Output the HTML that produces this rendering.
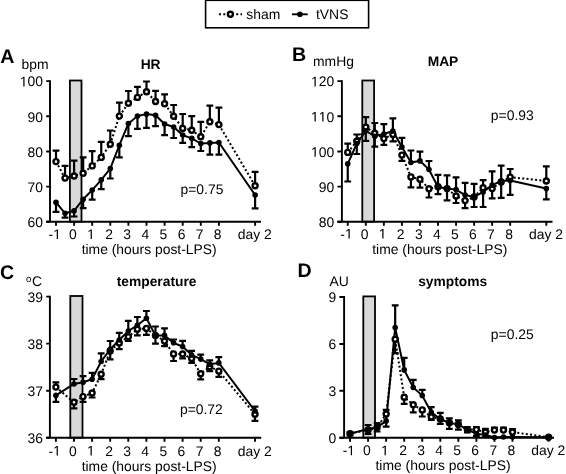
<!DOCTYPE html>
<html><head><meta charset="utf-8"><style>
html,body{margin:0;padding:0;background:#fff;}
svg{display:block;}
text{font-family:"Liberation Sans", sans-serif;font-size:13.9px;fill:#000;text-rendering:geometricPrecision;}
svg{will-change:transform;}
</style></head><body>
<svg width="566" height="474" viewBox="0 0 566 474">

<rect x="205.6" y="0.3" width="163" height="27.5" fill="#fff" stroke="#000" stroke-width="1.6"/>
<path d="M219 14.3H242" stroke="#000" stroke-width="2" stroke-dasharray="2 2.3"/>
<circle cx="230.4" cy="14.3" r="2.5" fill="#fff" stroke="#000" stroke-width="2.4"/>
<text x="246.3" y="19.2">sham</text>
<path d="M292 14.3H307.7" stroke="#000" stroke-width="1.9"/>
<circle cx="299.9" cy="14.3" r="2.8"/>
<text x="316" y="19.2">tVNS</text>

<rect x="69.9" y="80.5" width="11.6" height="141.2" fill="#d9d9d9" stroke="#000" stroke-width="1.8"/>
<path d="M50 80.15V221.7M46.2 221.7H261" stroke="#000" stroke-width="1.9" fill="none"/>
<path d="M46.2 221.7H50M46.2 186.6H50M46.2 151.5H50M46.2 116.3H50M46.2 81.1H50M56 221.7v4.0M74.1 221.7v4.0M92.2 221.7v4.0M110.3 221.7v4.0M128.4 221.7v4.0M146.5 221.7v4.0M164.6 221.7v4.0M182.7 221.7v4.0M200.8 221.7v4.0M218.9 221.7v4.0M255.1 221.7v4.0" stroke="#000" stroke-width="1.9" fill="none"/>
<text x="43" y="227" text-anchor="end">60</text>
<text x="43" y="191.9" text-anchor="end">70</text>
<text x="43" y="156.8" text-anchor="end">80</text>
<text x="43" y="121.6" text-anchor="end">90</text>
<polygon points="23.3,86.4 24.53,86.4 24.53,76.84 23.41,76.84 21.15,78.39 21.15,79.55 23.3,78"/><text x="27.54" y="86.4">0</text><text x="35.27" y="86.4">0</text>
<text x="48.62" y="239">-</text><polygon points="56.74,239 57.97,239 57.97,229.44 56.85,229.44 54.59,230.99 54.59,232.15 56.74,230.6"/>
<text x="72.9" y="239" text-anchor="middle">0</text>
<polygon points="90.63,239 91.86,239 91.86,229.44 90.73,229.44 88.47,230.99 88.47,232.15 90.63,230.6"/>
<text x="109.1" y="239" text-anchor="middle">2</text>
<text x="127.2" y="239" text-anchor="middle">3</text>
<text x="145.3" y="239" text-anchor="middle">4</text>
<text x="163.4" y="239" text-anchor="middle">5</text>
<text x="181.5" y="239" text-anchor="middle">6</text>
<text x="199.6" y="239" text-anchor="middle">7</text>
<text x="217.7" y="239" text-anchor="middle">8</text>
<text x="254.8" y="239" text-anchor="middle">day 2</text>
<text x="149.2" y="253.6" text-anchor="middle">time (hours post-LPS)</text>
<text x="0.2" y="62.8" style="font-weight:bold;font-size:19.6px">A</text>
<text x="21.5" y="69.2">bpm</text>
<text x="150.6" y="68.9" text-anchor="middle" style="font-weight:bold;font-size:13.8px">HR</text>
<text x="223.4" y="194.1" text-anchor="end">p=0.75</text>
<polyline points="56,161.6 65.05,178.1 74.1,176 83.15,173.2 92.2,165.9 101.25,157.4 110.3,144.2 119.35,116.1 128.4,103.3 137.45,97.4 146.5,91.7 155.55,101.5 164.6,103.8 173.65,116.2 182.7,128.4 191.75,130.3 200.8,136.8 209.85,121.8 218.9,124.6 255.1,185.8" fill="none" stroke="#000" stroke-width="2" stroke-dasharray="2 2.3"/>
<polyline points="56,202.4 65.05,213.3 74.1,210.8 83.15,199.2 92.2,190.1 101.25,179.8 110.3,168.6 119.35,145.2 128.4,123.5 137.45,116.1 146.5,114.1 155.55,115.2 164.6,124 173.65,127 182.7,135.1 191.75,138.3 200.8,143.6 209.85,142.9 218.9,142.5 255.1,195" fill="none" stroke="#000" stroke-width="2.0"/>
<path d="M56 161.6V150.7M52.6 150.7h6.8M56 202.4V211.9M52.6 211.9h6.8M65.05 178.1V165.9M61.65 165.9h6.8M65.05 213.3V217.6M61.65 217.6h6.8M74.1 176V160.6M70.7 160.6h6.8M74.1 210.8V216.5M70.7 216.5h6.8M83.15 173.2V157.4M79.75 157.4h6.8M83.15 199.2V208.1M79.75 208.1h6.8M92.2 165.9V151.1M88.8 151.1h6.8M92.2 190.1V199.6M88.8 199.6h6.8M101.25 157.4V141.8M97.85 141.8h6.8M101.25 179.8V189.1M97.85 189.1h6.8M110.3 144.2V130.5M106.9 130.5h6.8M110.3 168.6V178.5M106.9 178.5h6.8M119.35 116.1V102.6M115.95 102.6h6.8M119.35 145.2V157.4M115.95 157.4h6.8M128.4 103.3V91M125 91h6.8M128.4 123.5V136.2M125 136.2h6.8M137.45 97.4V86.8M134.05 86.8h6.8M137.45 116.1V128.8M134.05 128.8h6.8M146.5 91.7V81.5M143.1 81.5h6.8M146.5 114.1V127.8M143.1 127.8h6.8M155.55 101.5V90.8M152.15 90.8h6.8M155.55 115.2V126.2M152.15 126.2h6.8M164.6 103.8V94.4M161.2 94.4h6.8M164.6 124V135.1M161.2 135.1h6.8M173.65 116.2V105M170.25 105h6.8M173.65 127V138M170.25 138h6.8M182.7 128.4V114M179.3 114h6.8M182.7 135.1V142.9M179.3 142.9h6.8M191.75 130.3V116.1M188.35 116.1h6.8M191.75 138.3V147.2M188.35 147.2h6.8M200.8 136.8V121.8M197.4 121.8h6.8M200.8 143.6V151M197.4 151h6.8M209.85 121.8V105.6M206.45 105.6h6.8M209.85 142.9V154.7M206.45 154.7h6.8M218.9 124.6V107.7M215.5 107.7h6.8M218.9 142.5V154.7M215.5 154.7h6.8M255.1 185.8V171.9M251.7 171.9h6.8M255.1 195V208.3M251.7 208.3h6.8" stroke="#000" stroke-width="2.2" fill="none"/>
<circle cx="56" cy="161.6" r="2.5" fill="#fff" stroke="#000" stroke-width="2.4"/>
<circle cx="65.05" cy="178.1" r="2.5" fill="#fff" stroke="#000" stroke-width="2.4"/>
<circle cx="74.1" cy="176" r="2.5" fill="#fff" stroke="#000" stroke-width="2.4"/>
<circle cx="83.15" cy="173.2" r="2.5" fill="#fff" stroke="#000" stroke-width="2.4"/>
<circle cx="92.2" cy="165.9" r="2.5" fill="#fff" stroke="#000" stroke-width="2.4"/>
<circle cx="101.25" cy="157.4" r="2.5" fill="#fff" stroke="#000" stroke-width="2.4"/>
<circle cx="110.3" cy="144.2" r="2.5" fill="#fff" stroke="#000" stroke-width="2.4"/>
<circle cx="119.35" cy="116.1" r="2.5" fill="#fff" stroke="#000" stroke-width="2.4"/>
<circle cx="128.4" cy="103.3" r="2.5" fill="#fff" stroke="#000" stroke-width="2.4"/>
<circle cx="137.45" cy="97.4" r="2.5" fill="#fff" stroke="#000" stroke-width="2.4"/>
<circle cx="146.5" cy="91.7" r="2.5" fill="#fff" stroke="#000" stroke-width="2.4"/>
<circle cx="155.55" cy="101.5" r="2.5" fill="#fff" stroke="#000" stroke-width="2.4"/>
<circle cx="164.6" cy="103.8" r="2.5" fill="#fff" stroke="#000" stroke-width="2.4"/>
<circle cx="173.65" cy="116.2" r="2.5" fill="#fff" stroke="#000" stroke-width="2.4"/>
<circle cx="182.7" cy="128.4" r="2.5" fill="#fff" stroke="#000" stroke-width="2.4"/>
<circle cx="191.75" cy="130.3" r="2.5" fill="#fff" stroke="#000" stroke-width="2.4"/>
<circle cx="200.8" cy="136.8" r="2.5" fill="#fff" stroke="#000" stroke-width="2.4"/>
<circle cx="209.85" cy="121.8" r="2.5" fill="#fff" stroke="#000" stroke-width="2.4"/>
<circle cx="218.9" cy="124.6" r="2.5" fill="#fff" stroke="#000" stroke-width="2.4"/>
<circle cx="255.1" cy="185.8" r="2.5" fill="#fff" stroke="#000" stroke-width="2.4"/>
<circle cx="56" cy="202.4" r="2.8"/>
<circle cx="65.05" cy="213.3" r="2.8"/>
<circle cx="74.1" cy="210.8" r="2.8"/>
<circle cx="83.15" cy="199.2" r="2.8"/>
<circle cx="92.2" cy="190.1" r="2.8"/>
<circle cx="101.25" cy="179.8" r="2.8"/>
<circle cx="110.3" cy="168.6" r="2.8"/>
<circle cx="119.35" cy="145.2" r="2.8"/>
<circle cx="128.4" cy="123.5" r="2.8"/>
<circle cx="137.45" cy="116.1" r="2.8"/>
<circle cx="146.5" cy="114.1" r="2.8"/>
<circle cx="155.55" cy="115.2" r="2.8"/>
<circle cx="164.6" cy="124" r="2.8"/>
<circle cx="173.65" cy="127" r="2.8"/>
<circle cx="182.7" cy="135.1" r="2.8"/>
<circle cx="191.75" cy="138.3" r="2.8"/>
<circle cx="200.8" cy="143.6" r="2.8"/>
<circle cx="209.85" cy="142.9" r="2.8"/>
<circle cx="218.9" cy="142.5" r="2.8"/>
<circle cx="255.1" cy="195" r="2.8"/>
<rect x="362.3" y="80.5" width="11.8" height="141.2" fill="#d9d9d9" stroke="#000" stroke-width="1.8"/>
<path d="M341.9 80.15V221.7M337.4 221.7H552.5" stroke="#000" stroke-width="1.9" fill="none"/>
<path d="M337.4 221.7H341.9M337.4 186.6H341.9M337.4 151.5H341.9M337.4 116.3H341.9M337.4 81.1H341.9M347.75 221.7v4.0M365.8 221.7v4.0M383.85 221.7v4.0M401.9 221.7v4.0M419.95 221.7v4.0M438 221.7v4.0M456.05 221.7v4.0M474.1 221.7v4.0M492.15 221.7v4.0M510.2 221.7v4.0M546.3 221.7v4.0" stroke="#000" stroke-width="1.9" fill="none"/>
<text x="334.2" y="227" text-anchor="end">80</text>
<text x="334.2" y="191.9" text-anchor="end">90</text>
<polygon points="314.5,156.8 315.73,156.8 315.73,147.24 314.61,147.24 312.35,148.79 312.35,149.95 314.5,148.4"/><text x="318.74" y="156.8">0</text><text x="326.47" y="156.8">0</text>
<polygon points="314.5,121.6 315.73,121.6 315.73,112.04 314.61,112.04 312.35,113.59 312.35,114.75 314.5,113.2"/><polygon points="322.23,121.6 323.46,121.6 323.46,112.04 322.34,112.04 320.08,113.59 320.08,114.75 322.23,113.2"/><text x="326.47" y="121.6">0</text>
<polygon points="314.5,86.4 315.73,86.4 315.73,76.84 314.61,76.84 312.35,78.39 312.35,79.55 314.5,78"/><text x="318.74" y="86.4">2</text><text x="326.47" y="86.4">0</text>
<text x="340.37" y="238.6">-</text><polygon points="348.49,238.6 349.72,238.6 349.72,229.04 348.6,229.04 346.34,230.59 346.34,231.75 348.49,230.2"/>
<text x="364.6" y="238.6" text-anchor="middle">0</text>
<polygon points="382.28,238.6 383.51,238.6 383.51,229.04 382.38,229.04 380.12,230.59 380.12,231.75 382.28,230.2"/>
<text x="400.7" y="238.6" text-anchor="middle">2</text>
<text x="418.75" y="238.6" text-anchor="middle">3</text>
<text x="436.8" y="238.6" text-anchor="middle">4</text>
<text x="454.85" y="238.6" text-anchor="middle">5</text>
<text x="472.9" y="238.6" text-anchor="middle">6</text>
<text x="490.95" y="238.6" text-anchor="middle">7</text>
<text x="509" y="238.6" text-anchor="middle">8</text>
<text x="546" y="238.6" text-anchor="middle">day 2</text>
<text x="439.8" y="253.5" text-anchor="middle">time (hours post-LPS)</text>
<text x="292" y="60.7" style="font-weight:bold;font-size:19.6px">B</text>
<text x="313" y="65.8">mmHg</text>
<text x="443" y="65.7" text-anchor="middle" style="font-weight:bold;font-size:13.8px">MAP</text>
<text x="533.7" y="119.9" text-anchor="end">p=0.93</text>
<polyline points="347.75,152.4 356.78,141.3 365.8,127.1 374.82,133.3 383.85,138.6 392.88,134.5 401.9,155.1 410.93,176.9 419.95,179.2 428.98,188.8 438,186.8 447.03,188.6 456.05,196 465.08,200.6 474.1,197 483.12,187.8 492.15,188.6 501.18,182 510.2,177.1 546.3,181" fill="none" stroke="#000" stroke-width="2" stroke-dasharray="2 2.3"/>
<polyline points="347.75,163.8 356.78,143.6 365.8,131 374.82,136.3 383.85,134 392.88,131 401.9,147.1 410.93,162.5 419.95,160.9 428.98,169.5 438,187 447.03,188.4 456.05,189.6 465.08,195 474.1,196.9 483.12,191.9 492.15,185.1 501.18,181 510.2,180.5 546.3,188.6" fill="none" stroke="#000" stroke-width="2.0"/>
<path d="M347.75 152.4V143.6M344.35 143.6h6.8M347.75 163.8V181.5M344.35 181.5h6.8M356.78 141.3V134.5M353.38 134.5h6.8M356.78 143.6V154M353.38 154h6.8M365.8 127.1V117.2M362.4 117.2h6.8M365.8 131V140.9M362.4 140.9h6.8M374.82 133.3V123M371.43 123h6.8M374.82 136.3V146.6M371.43 146.6h6.8M383.85 134V124.1M380.45 124.1h6.8M383.85 138.6V144.8M380.45 144.8h6.8M392.88 131V118.4M389.48 118.4h6.8M392.88 134.5V141.3M389.48 141.3h6.8M401.9 147.1V137.9M398.5 137.9h6.8M401.9 155.1V160.9M398.5 160.9h6.8M410.93 162.5V150.5M407.53 150.5h6.8M410.93 176.9V187.3M407.53 187.3h6.8M419.95 160.9V151.7M416.55 151.7h6.8M419.95 179.2V187.7M416.55 187.7h6.8M428.98 169.5V161M425.58 161h6.8M428.98 188.8V197.5M425.58 197.5h6.8M438 186.8V174.8M434.6 174.8h6.8M438 187V194.2M434.6 194.2h6.8M447.03 188.4V175.3M443.63 175.3h6.8M447.03 188.6V200.4M443.63 200.4h6.8M456.05 189.6V177.3M452.65 177.3h6.8M456.05 196V203M452.65 203h6.8M465.08 195V182.8M461.68 182.8h6.8M465.08 200.6V208.1M461.68 208.1h6.8M474.1 196.9V183.9M470.7 183.9h6.8M474.1 197V207M470.7 207h6.8M483.12 187.8V180.2M479.73 180.2h6.8M483.12 191.9V207M479.73 207h6.8M492.15 185.1V171.3M488.75 171.3h6.8M492.15 188.6V198.4M488.75 198.4h6.8M501.18 181V165.6M497.78 165.6h6.8M501.18 182V197.8M497.78 197.8h6.8M510.2 177.1V169M506.8 169h6.8M510.2 180.5V194.8M506.8 194.8h6.8M546.3 181V166.3M542.9 166.3h6.8M546.3 188.6V199.4M542.9 199.4h6.8" stroke="#000" stroke-width="2.2" fill="none"/>
<circle cx="347.75" cy="152.4" r="2.5" fill="#fff" stroke="#000" stroke-width="2.4"/>
<circle cx="356.78" cy="141.3" r="2.5" fill="#fff" stroke="#000" stroke-width="2.4"/>
<circle cx="365.8" cy="127.1" r="2.5" fill="#fff" stroke="#000" stroke-width="2.4"/>
<circle cx="374.82" cy="133.3" r="2.5" fill="#fff" stroke="#000" stroke-width="2.4"/>
<circle cx="383.85" cy="138.6" r="2.5" fill="#fff" stroke="#000" stroke-width="2.4"/>
<circle cx="392.88" cy="134.5" r="2.5" fill="#fff" stroke="#000" stroke-width="2.4"/>
<circle cx="401.9" cy="155.1" r="2.5" fill="#fff" stroke="#000" stroke-width="2.4"/>
<circle cx="410.93" cy="176.9" r="2.5" fill="#fff" stroke="#000" stroke-width="2.4"/>
<circle cx="419.95" cy="179.2" r="2.5" fill="#fff" stroke="#000" stroke-width="2.4"/>
<circle cx="428.98" cy="188.8" r="2.5" fill="#fff" stroke="#000" stroke-width="2.4"/>
<circle cx="438" cy="186.8" r="2.5" fill="#fff" stroke="#000" stroke-width="2.4"/>
<circle cx="447.03" cy="188.6" r="2.5" fill="#fff" stroke="#000" stroke-width="2.4"/>
<circle cx="456.05" cy="196" r="2.5" fill="#fff" stroke="#000" stroke-width="2.4"/>
<circle cx="465.08" cy="200.6" r="2.5" fill="#fff" stroke="#000" stroke-width="2.4"/>
<circle cx="474.1" cy="197" r="2.5" fill="#fff" stroke="#000" stroke-width="2.4"/>
<circle cx="483.12" cy="187.8" r="2.5" fill="#fff" stroke="#000" stroke-width="2.4"/>
<circle cx="492.15" cy="188.6" r="2.5" fill="#fff" stroke="#000" stroke-width="2.4"/>
<circle cx="501.18" cy="182" r="2.5" fill="#fff" stroke="#000" stroke-width="2.4"/>
<circle cx="510.2" cy="177.1" r="2.5" fill="#fff" stroke="#000" stroke-width="2.4"/>
<circle cx="546.3" cy="181" r="2.5" fill="#fff" stroke="#000" stroke-width="2.4"/>
<circle cx="347.75" cy="163.8" r="2.8"/>
<circle cx="356.78" cy="143.6" r="2.8"/>
<circle cx="365.8" cy="131" r="2.8"/>
<circle cx="374.82" cy="136.3" r="2.8"/>
<circle cx="383.85" cy="134" r="2.8"/>
<circle cx="392.88" cy="131" r="2.8"/>
<circle cx="401.9" cy="147.1" r="2.8"/>
<circle cx="410.93" cy="162.5" r="2.8"/>
<circle cx="419.95" cy="160.9" r="2.8"/>
<circle cx="428.98" cy="169.5" r="2.8"/>
<circle cx="438" cy="187" r="2.8"/>
<circle cx="447.03" cy="188.4" r="2.8"/>
<circle cx="456.05" cy="189.6" r="2.8"/>
<circle cx="465.08" cy="195" r="2.8"/>
<circle cx="474.1" cy="196.9" r="2.8"/>
<circle cx="483.12" cy="191.9" r="2.8"/>
<circle cx="492.15" cy="185.1" r="2.8"/>
<circle cx="501.18" cy="181" r="2.8"/>
<circle cx="510.2" cy="180.5" r="2.8"/>
<circle cx="546.3" cy="188.6" r="2.8"/>
<rect x="70.3" y="296" width="12.2" height="141.7" fill="#d9d9d9" stroke="#000" stroke-width="1.8"/>
<path d="M49.9 295.65V437.7M46.2 437.7H261.2" stroke="#000" stroke-width="1.9" fill="none"/>
<path d="M46.2 437.7H49.9M46.2 390.7H49.9M46.2 343.6H49.9M46.2 296.6H49.9M55.9 437.7v4.0M74 437.7v4.0M92.1 437.7v4.0M110.2 437.7v4.0M128.3 437.7v4.0M146.4 437.7v4.0M164.5 437.7v4.0M182.6 437.7v4.0M200.7 437.7v4.0M218.8 437.7v4.0M255 437.7v4.0" stroke="#000" stroke-width="1.9" fill="none"/>
<text x="43" y="443" text-anchor="end">36</text>
<text x="43" y="396" text-anchor="end">37</text>
<text x="43" y="348.9" text-anchor="end">38</text>
<text x="43" y="301.9" text-anchor="end">39</text>
<text x="48.52" y="455.6">-</text><polygon points="56.64,455.6 57.87,455.6 57.87,446.04 56.75,446.04 54.49,447.59 54.49,448.75 56.64,447.2"/>
<text x="72.8" y="455.6" text-anchor="middle">0</text>
<polygon points="90.53,455.6 91.76,455.6 91.76,446.04 90.63,446.04 88.37,447.59 88.37,448.75 90.53,447.2"/>
<text x="109" y="455.6" text-anchor="middle">2</text>
<text x="127.1" y="455.6" text-anchor="middle">3</text>
<text x="145.2" y="455.6" text-anchor="middle">4</text>
<text x="163.3" y="455.6" text-anchor="middle">5</text>
<text x="181.4" y="455.6" text-anchor="middle">6</text>
<text x="199.5" y="455.6" text-anchor="middle">7</text>
<text x="217.6" y="455.6" text-anchor="middle">8</text>
<text x="254.7" y="455.6" text-anchor="middle">day 2</text>
<text x="149.2" y="470.6" text-anchor="middle">time (hours post-LPS)</text>
<text x="-0.1" y="279.4" style="font-weight:bold;font-size:19.6px">C</text>
<text x="26" y="281.5" style="font-size:9.6px">o</text>
<text x="32" y="285.7">C</text>
<text x="156.6" y="285.7" text-anchor="middle" style="font-weight:bold;font-size:13.8px">temperature</text>
<text x="222.8" y="413.9" text-anchor="end">p=0.72</text>
<polyline points="55.9,387.1 74,402.3 83.05,396.6 92.1,393 101.15,374.3 110.2,351 119.25,342.9 128.3,336.8 137.35,329.2 146.4,328.4 155.45,335.4 164.5,341.1 173.55,353.9 182.6,354 191.65,358.5 200.7,373.7 209.75,366.7 218.8,371.1 255,414.2" fill="none" stroke="#000" stroke-width="2" stroke-dasharray="2 2.3"/>
<polyline points="55.9,395.4 74,384 83.05,382.3 92.1,379.3 101.15,361.5 110.2,349.4 119.25,340 128.3,331 137.35,325.3 146.4,318.2 155.45,335.4 164.5,335.4 173.55,342.8 182.6,346.6 191.65,355 200.7,359.1 209.75,364.2 218.8,362.9 255,411" fill="none" stroke="#000" stroke-width="2.0"/>
<path d="M55.9 387.1V382.3M52.5 382.3h6.8M55.9 395.4V401.8M52.5 401.8h6.8M74 384V379M70.6 379h6.8M74 402.3V408.4M70.6 408.4h6.8M83.05 382.3V376.2M79.65 376.2h6.8M83.05 396.6V401.8M79.65 401.8h6.8M92.1 379.3V372.8M88.7 372.8h6.8M92.1 393V397.5M88.7 397.5h6.8M101.15 361.5V353.4M97.75 353.4h6.8M101.15 374.3V379.1M97.75 379.1h6.8M110.2 349.4V341M106.8 341h6.8M110.2 351V359.4M106.8 359.4h6.8M119.25 340V332.8M115.85 332.8h6.8M119.25 342.9V349.2M115.85 349.2h6.8M128.3 331V320.8M124.9 320.8h6.8M128.3 336.8V341M124.9 341h6.8M137.35 325.3V317M133.95 317h6.8M137.35 329.2V335.3M133.95 335.3h6.8M146.4 318.2V311M143 311h6.8M146.4 328.4V334.8M143 334.8h6.8M155.45 335.4V326.5M152.05 326.5h6.8M155.45 335.4V343.6M152.05 343.6h6.8M164.5 335.4V328.4M161.1 328.4h6.8M164.5 341.1V346.1M161.1 346.1h6.8M173.55 342.8V339.5M170.15 339.5h6.8M173.55 353.9V361M170.15 361h6.8M182.6 346.6V340.9M179.2 340.9h6.8M182.6 354V358.4M179.2 358.4h6.8M191.65 355V350.8M188.25 350.8h6.8M191.65 358.5V362.9M188.25 362.9h6.8M200.7 359.1V354.7M197.3 354.7h6.8M200.7 373.7V379.4M197.3 379.4h6.8M209.75 364.2V360.4M206.35 360.4h6.8M209.75 366.7V371.1M206.35 371.1h6.8M218.8 362.9V357.2M215.4 357.2h6.8M218.8 371.1V376.8M215.4 376.8h6.8M255 411V406.6M251.6 406.6h6.8M255 414.2V420.8M251.6 420.8h6.8" stroke="#000" stroke-width="2.2" fill="none"/>
<circle cx="55.9" cy="387.1" r="2.5" fill="#fff" stroke="#000" stroke-width="2.4"/>
<circle cx="74" cy="402.3" r="2.5" fill="#fff" stroke="#000" stroke-width="2.4"/>
<circle cx="83.05" cy="396.6" r="2.5" fill="#fff" stroke="#000" stroke-width="2.4"/>
<circle cx="92.1" cy="393" r="2.5" fill="#fff" stroke="#000" stroke-width="2.4"/>
<circle cx="101.15" cy="374.3" r="2.5" fill="#fff" stroke="#000" stroke-width="2.4"/>
<circle cx="110.2" cy="351" r="2.5" fill="#fff" stroke="#000" stroke-width="2.4"/>
<circle cx="119.25" cy="342.9" r="2.5" fill="#fff" stroke="#000" stroke-width="2.4"/>
<circle cx="128.3" cy="336.8" r="2.5" fill="#fff" stroke="#000" stroke-width="2.4"/>
<circle cx="137.35" cy="329.2" r="2.5" fill="#fff" stroke="#000" stroke-width="2.4"/>
<circle cx="146.4" cy="328.4" r="2.5" fill="#fff" stroke="#000" stroke-width="2.4"/>
<circle cx="155.45" cy="335.4" r="2.5" fill="#fff" stroke="#000" stroke-width="2.4"/>
<circle cx="164.5" cy="341.1" r="2.5" fill="#fff" stroke="#000" stroke-width="2.4"/>
<circle cx="173.55" cy="353.9" r="2.5" fill="#fff" stroke="#000" stroke-width="2.4"/>
<circle cx="182.6" cy="354" r="2.5" fill="#fff" stroke="#000" stroke-width="2.4"/>
<circle cx="191.65" cy="358.5" r="2.5" fill="#fff" stroke="#000" stroke-width="2.4"/>
<circle cx="200.7" cy="373.7" r="2.5" fill="#fff" stroke="#000" stroke-width="2.4"/>
<circle cx="209.75" cy="366.7" r="2.5" fill="#fff" stroke="#000" stroke-width="2.4"/>
<circle cx="218.8" cy="371.1" r="2.5" fill="#fff" stroke="#000" stroke-width="2.4"/>
<circle cx="255" cy="414.2" r="2.5" fill="#fff" stroke="#000" stroke-width="2.4"/>
<circle cx="55.9" cy="395.4" r="2.8"/>
<circle cx="74" cy="384" r="2.8"/>
<circle cx="83.05" cy="382.3" r="2.8"/>
<circle cx="92.1" cy="379.3" r="2.8"/>
<circle cx="101.15" cy="361.5" r="2.8"/>
<circle cx="110.2" cy="349.4" r="2.8"/>
<circle cx="119.25" cy="340" r="2.8"/>
<circle cx="128.3" cy="331" r="2.8"/>
<circle cx="137.35" cy="325.3" r="2.8"/>
<circle cx="146.4" cy="318.2" r="2.8"/>
<circle cx="155.45" cy="335.4" r="2.8"/>
<circle cx="164.5" cy="335.4" r="2.8"/>
<circle cx="173.55" cy="342.8" r="2.8"/>
<circle cx="182.6" cy="346.6" r="2.8"/>
<circle cx="191.65" cy="355" r="2.8"/>
<circle cx="200.7" cy="359.1" r="2.8"/>
<circle cx="209.75" cy="364.2" r="2.8"/>
<circle cx="218.8" cy="362.9" r="2.8"/>
<circle cx="255" cy="411" r="2.8"/>
<rect x="363.3" y="296.4" width="11.7" height="141.3" fill="#d9d9d9" stroke="#000" stroke-width="1.8"/>
<path d="M344.1 296.05V437.7M339.4 437.7H554" stroke="#000" stroke-width="1.9" fill="none"/>
<path d="M339.4 437.7H344.1M339.4 390.8H344.1M339.4 344H344.1M339.4 297H344.1M350.05 437.7v4.0M368.1 437.7v4.0M386.15 437.7v4.0M404.2 437.7v4.0M422.25 437.7v4.0M440.3 437.7v4.0M458.35 437.7v4.0M476.4 437.7v4.0M494.45 437.7v4.0M512.5 437.7v4.0M548.6 437.7v4.0" stroke="#000" stroke-width="1.9" fill="none"/>
<text x="336.2" y="443" text-anchor="end">0</text>
<text x="336.2" y="396.1" text-anchor="end">3</text>
<text x="336.2" y="349.3" text-anchor="end">6</text>
<text x="336.2" y="302.3" text-anchor="end">9</text>
<text x="342.67" y="455.3">-</text><polygon points="350.79,455.3 352.02,455.3 352.02,445.74 350.9,445.74 348.64,447.29 348.64,448.45 350.79,446.9"/>
<text x="366.9" y="455.3" text-anchor="middle">0</text>
<polygon points="384.58,455.3 385.81,455.3 385.81,445.74 384.68,445.74 382.42,447.29 382.42,448.45 384.58,446.9"/>
<text x="403" y="455.3" text-anchor="middle">2</text>
<text x="421.05" y="455.3" text-anchor="middle">3</text>
<text x="439.1" y="455.3" text-anchor="middle">4</text>
<text x="457.15" y="455.3" text-anchor="middle">5</text>
<text x="475.2" y="455.3" text-anchor="middle">6</text>
<text x="493.25" y="455.3" text-anchor="middle">7</text>
<text x="511.3" y="455.3" text-anchor="middle">8</text>
<text x="548.3" y="455.3" text-anchor="middle">day 2</text>
<text x="443" y="470" text-anchor="middle">time (hours post-LPS)</text>
<text x="297.5" y="276.7" style="font-weight:bold;font-size:19.6px">D</text>
<text x="329.5" y="285.7">AU</text>
<text x="452.7" y="286.1" text-anchor="middle" style="font-weight:bold;font-size:13.8px">symptoms</text>
<text x="533.7" y="339.3" text-anchor="end">p=0.25</text>
<polyline points="350.05,433.6 368.1,430 377.12,427.5 386.15,414 395.18,339.2 404.2,397.3 413.23,404.7 422.25,409.9 431.28,416.9 440.3,419 449.33,422.8 458.35,424.5 467.38,429.6 476.4,429.6 485.43,432.1 494.45,430.1 503.48,430.1 512.5,432.1 548.6,437.2" fill="none" stroke="#000" stroke-width="2" stroke-dasharray="2 2.3"/>
<polyline points="350.05,433.6 368.1,429 377.12,427.5 386.15,420.9 395.18,327.6 404.2,369.9 413.23,387.5 422.25,395.6 431.28,412.4 440.3,419 449.33,422.8 458.35,424.5 467.38,429.6 476.4,433.8 485.43,435 494.45,437.5 503.48,437 512.5,437 548.6,437.2" fill="none" stroke="#000" stroke-width="2.0"/>
<path d="M350.05 433.6V432M346.65 432h6.8M350.05 433.6V435.5M346.65 435.5h6.8M368.1 429V425M364.7 425h6.8M368.1 430V434M364.7 434h6.8M377.12 427.5V423M373.73 423h6.8M377.12 427.5V431.5M373.73 431.5h6.8M386.15 414V409.8M382.75 409.8h6.8M386.15 420.9V426.7M382.75 426.7h6.8M395.18 327.6V305.4M391.78 305.4h6.8M395.18 339.2V353.2M391.78 353.2h6.8M404.2 369.9V357.8M400.8 357.8h6.8M404.2 397.3V403.8M400.8 403.8h6.8M413.23 387.5V379.9M409.83 379.9h6.8M413.23 404.7V412.4M409.83 412.4h6.8M422.25 395.6V389.9M418.85 389.9h6.8M422.25 409.9V416.5M418.85 416.5h6.8M431.28 412.4V407.2M427.88 407.2h6.8M431.28 416.9V420M427.88 420h6.8M440.3 419V412.9M436.9 412.9h6.8M440.3 419V423.9M436.9 423.9h6.8M449.33 422.8V418.3M445.93 418.3h6.8M449.33 422.8V428.9M445.93 428.9h6.8M458.35 424.5V420.4M454.95 420.4h6.8M458.35 424.5V429.6M454.95 429.6h6.8M467.38 429.6V427M463.98 427h6.8M467.38 429.6V432.4M463.98 432.4h6.8M476.4 429.6V427M473 427h6.8M476.4 433.8V436M473 436h6.8M485.43 432.1V428.9M482.03 428.9h6.8M485.43 435V437M482.03 437h6.8M494.45 430.1V427.5M491.05 427.5h6.8M494.45 437.5V437.5M491.05 437.5h6.8M503.48 430.1V427.5M500.08 427.5h6.8M503.48 437V437M500.08 437h6.8M512.5 432.1V429M509.1 429h6.8M512.5 437V437M509.1 437h6.8" stroke="#000" stroke-width="2.2" fill="none"/>
<circle cx="350.05" cy="433.6" r="2.5" fill="#fff" stroke="#000" stroke-width="2.4"/>
<circle cx="368.1" cy="430" r="2.5" fill="#fff" stroke="#000" stroke-width="2.4"/>
<circle cx="377.12" cy="427.5" r="2.5" fill="#fff" stroke="#000" stroke-width="2.4"/>
<circle cx="386.15" cy="414" r="2.5" fill="#fff" stroke="#000" stroke-width="2.4"/>
<circle cx="395.18" cy="339.2" r="2.5" fill="#fff" stroke="#000" stroke-width="2.4"/>
<circle cx="404.2" cy="397.3" r="2.5" fill="#fff" stroke="#000" stroke-width="2.4"/>
<circle cx="413.23" cy="404.7" r="2.5" fill="#fff" stroke="#000" stroke-width="2.4"/>
<circle cx="422.25" cy="409.9" r="2.5" fill="#fff" stroke="#000" stroke-width="2.4"/>
<circle cx="431.28" cy="416.9" r="2.5" fill="#fff" stroke="#000" stroke-width="2.4"/>
<circle cx="440.3" cy="419" r="2.5" fill="#fff" stroke="#000" stroke-width="2.4"/>
<circle cx="449.33" cy="422.8" r="2.5" fill="#fff" stroke="#000" stroke-width="2.4"/>
<circle cx="458.35" cy="424.5" r="2.5" fill="#fff" stroke="#000" stroke-width="2.4"/>
<circle cx="467.38" cy="429.6" r="2.5" fill="#fff" stroke="#000" stroke-width="2.4"/>
<circle cx="476.4" cy="429.6" r="2.5" fill="#fff" stroke="#000" stroke-width="2.4"/>
<circle cx="485.43" cy="432.1" r="2.5" fill="#fff" stroke="#000" stroke-width="2.4"/>
<circle cx="494.45" cy="430.1" r="2.5" fill="#fff" stroke="#000" stroke-width="2.4"/>
<circle cx="503.48" cy="430.1" r="2.5" fill="#fff" stroke="#000" stroke-width="2.4"/>
<circle cx="512.5" cy="432.1" r="2.5" fill="#fff" stroke="#000" stroke-width="2.4"/>
<circle cx="548.6" cy="437.2" r="2.5" fill="#fff" stroke="#000" stroke-width="2.4"/>
<circle cx="350.05" cy="433.6" r="2.8"/>
<circle cx="368.1" cy="429" r="2.8"/>
<circle cx="377.12" cy="427.5" r="2.8"/>
<circle cx="386.15" cy="420.9" r="2.8"/>
<circle cx="395.18" cy="327.6" r="2.8"/>
<circle cx="404.2" cy="369.9" r="2.8"/>
<circle cx="413.23" cy="387.5" r="2.8"/>
<circle cx="422.25" cy="395.6" r="2.8"/>
<circle cx="431.28" cy="412.4" r="2.8"/>
<circle cx="440.3" cy="419" r="2.8"/>
<circle cx="449.33" cy="422.8" r="2.8"/>
<circle cx="458.35" cy="424.5" r="2.8"/>
<circle cx="467.38" cy="429.6" r="2.8"/>
<circle cx="476.4" cy="433.8" r="2.8"/>
<circle cx="485.43" cy="435" r="2.8"/>
<circle cx="494.45" cy="437.5" r="2.8"/>
<circle cx="503.48" cy="437" r="2.8"/>
<circle cx="512.5" cy="437" r="2.8"/>
<circle cx="548.6" cy="437.2" r="2.8"/>
</svg>
</body></html>
